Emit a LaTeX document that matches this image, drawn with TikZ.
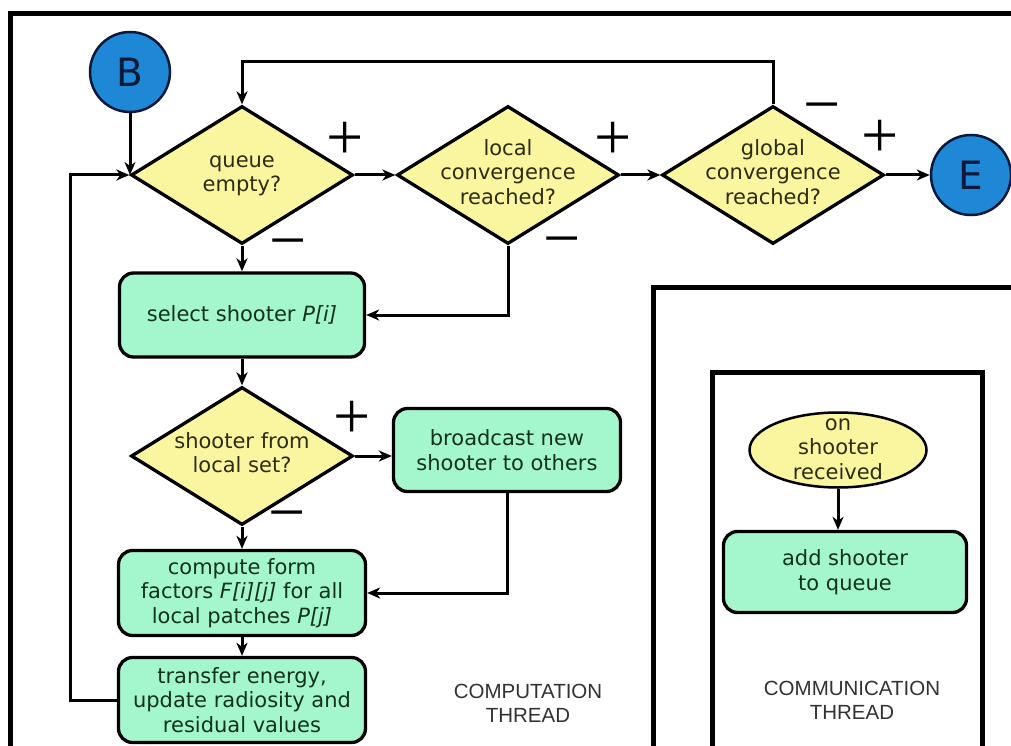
\documentclass[tikz,border=0pt]{standalone}
\usepackage{fontspec}
\setmainfont{DejaVu Sans}
\newfontfamily\threadfont{Liberation Sans}
\newfontfamily\signfont{Liberation Serif}
\usetikzlibrary{shapes.geometric,arrows.meta}

\definecolor{mint}{RGB}{164,247,204}
\definecolor{lemon}{RGB}{250,246,160}
\definecolor{disc}{RGB}{30,136,214}
\definecolor{navy}{RGB}{10,24,58}
\definecolor{boxtext}{RGB}{18,50,28}
\definecolor{dectext}{RGB}{44,44,16}
\definecolor{threadgray}{RGB}{50,50,50}

% centred multi-line text that does not enlarge its shape
\newcommand\lines[1]{\smash{\makebox[0pt]{\raisebox{-5pt}{\begin{tabular}{@{}c@{}}#1\end{tabular}}}}}

\tikzset{
  every node/.style={font=\fontsize{21}{24.5}\selectfont},
  decision/.style={diamond, draw=black, line width=3.3pt, fill=lemon,
    minimum width=222pt, minimum height=138pt, inner sep=0pt, text=dectext},
  procbox/.style={rectangle, rounded corners=14pt, draw=black, line width=3.3pt,
    fill=mint, text=boxtext, align=center, inner sep=2pt},
  terminal/.style={circle, draw=navy, line width=2.5pt, fill=disc,
    minimum size=80pt, inner sep=0pt, text=navy, font=\fontsize{39}{39}\selectfont},
  flow/.style={line width=3pt, -{Stealth[length=13pt,width=11pt,inset=4pt]}},
  frame/.style={line width=5pt},
  sign/.style={font=\signfont\fontsize{66}{66}\selectfont, anchor=base,
    inner sep=0pt, yshift=-16.8pt},
  threadlabel/.style={font=\threadfont\fontsize{20.5}{24}\selectfont,
    text=threadgray, align=center},
}

\begin{document}
\begin{tikzpicture}[x=1pt,y=-1pt]
\useasboundingbox (0,0) rectangle (1011,746);
\fill[white] (0,0) rectangle (1011,746);

% thread frames
\begin{scope}
  \clip (0,0) rectangle (1011,746);
  \draw[frame] (10,14) rectangle (1060,790);
  \draw[frame] (653,287) rectangle (1060,790);
  \draw[frame] (712,372) rectangle (982,790);
\end{scope}

% computation thread
\node[terminal] (B) at (130,72) {B};
\node[terminal] (E) at (971,175) {E};
\node[decision] (q)  at (242,175) {\lines{queue\\empty?}};
\node[decision] (lc) at (508,175) {\lines{local\\convergence\\reached?}};
\node[decision] (gc) at (773,175) {\lines{global\\convergence\\reached?}};
\node[procbox, minimum width=245pt, minimum height=84pt] (sel) at (242,315)
  {select shooter \textit{P[i]}};
\node[decision] (sd) at (242,456) {\lines{shooter from\\local set?}};
\node[procbox, minimum width=227pt, minimum height=83pt] (bc) at (507,450)
  {broadcast new\\shooter to others};
\node[procbox, minimum width=247pt, minimum height=85pt] (cf) at (242,593)
  {compute form\\factors \textit{F[i][j]} for all\\local patches \textit{P[j]}};
\node[procbox, minimum width=247pt, minimum height=85pt] (tr) at (242,700)
  {transfer energy,\\update radiosity and\\residual values};
\node[threadlabel] (ct) at (528,703) {COMPUTATION\\THREAD};

% communication thread
\node[ellipse, draw=black, line width=2.5pt, fill=lemon, minimum width=177pt,
  minimum height=75pt, inner sep=0pt, text=dectext] (on) at (838,450)
  {\lines{on\\shooter\\received}};
\node[procbox, minimum width=243pt, minimum height=81pt] (add) at (845,572)
  {add shooter\\to queue};
\node[threadlabel] (mt) at (852,700) {COMMUNICATION\\THREAD};

% routing helpers
\coordinate (loop) at (70,0);
\coordinate (topy) at (0,62);

% connectors
\draw[flow] (B.south) -- (B.south |- q.west);
\draw[flow] (tr.west) -- (tr.west -| loop) |- (q.west);
\draw[flow] (q.east) -- (lc.west);
\draw[flow] (lc.east) -- (gc.west);
\draw[flow] (gc.east) -- (E.west);
\draw[flow] (gc.north) -- (gc.north |- topy) -| (q.north);
\draw[flow] (lc.south) |- (sel.east);
\draw[flow] (q.south) -- (sel.north);
\draw[flow] (sel.south) -- (sd.north);
\draw[flow] (sd.east) -- (sd.east -| bc.west);
\draw[flow] (sd.south) -- (cf.north);
\draw[flow] (bc.south) |- (cf.east);
\draw[flow] (cf.south) -- (tr.north);
\draw[flow] (on.south) -- (on.south |- add.north);

% branch signs
\node[sign] (qp) at (345,143) {+};
\node[sign] (qm) at (288,246) {−};
\node[sign] (lp) at (613,143) {+};
\node[sign] (lm) at (562,244) {−};
\node[sign] (gm) at (822,110) {−};
\node[sign] (gp) at (880,141) {+};
\node[sign] (sp) at (352,422) {+};
\node[sign] (sm) at (287,518) {−};
\end{tikzpicture}
\end{document}
